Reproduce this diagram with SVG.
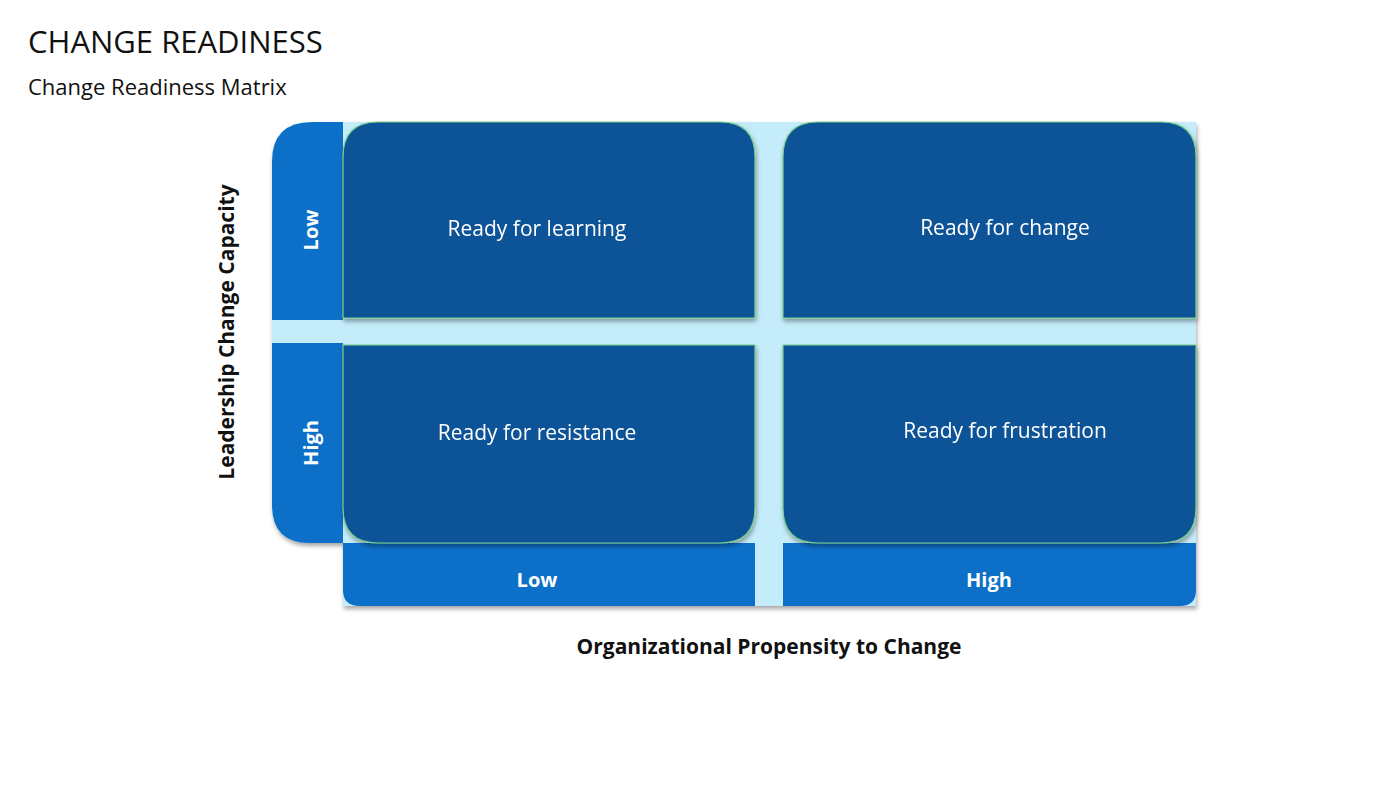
<svg xmlns="http://www.w3.org/2000/svg" width="1400" height="788" viewBox="0 0 1400 788">
<defs>
<style>
text{font-family:"Open Sans","Noto Sans",sans-serif}
.q{fill:#0f5397;stroke:#7ccf8a;stroke-width:1.2}
.b{fill:#1070c8}
.qt{fill:#fff;font-size:21px;text-anchor:middle}
.ax{fill:#fff;font-size:20px;font-weight:bold;text-anchor:middle}
.lb{fill:#111;font-size:21px;font-weight:bold;text-anchor:middle}
</style>
<filter id="sh" x="-5%" y="-5%" width="110%" height="115%"><feDropShadow dx="1" dy="3" stdDeviation="2" flood-color="#000" flood-opacity="0.35"/></filter>
</defs>
<rect width="1400" height="788" fill="#fff"/>
<text x="28" y="53" font-size="31" fill="#111">CHANGE READINESS</text>
<text x="28" y="95" font-size="22" fill="#111">Change Readiness Matrix</text>
<g id="frame" filter="url(#sh)">
<rect x="343" y="122" width="853" height="484" fill="#c4ecfa"/>
<rect x="272" y="320" width="72" height="23" fill="#c4ecfa"/>
<path class="b" d="M272 162 Q272 122 312 122 L343 122 L343 320 L272 320 Z"/>
<path class="b" d="M272 343 L343 343 L343 543 L310 543 Q272 543 272 505 Z"/>
<path class="b" d="M343 543 L755 543 L755 606 L360 606 Q343 606 343 590 Z"/>
<path class="b" d="M783 543 L1196 543 L1196 590 Q1196 606 1180 606 L783 606 Z"/>
</g>
<g id="axis-labels">
<text class="ax" transform="translate(318,230) rotate(-90)">Low</text>
<text class="ax" transform="translate(318,443) rotate(-90)">High</text>
<text class="ax" x="537" y="587">Low</text>
<text class="ax" x="989" y="587">High</text>
</g>
<g id="q1" filter="url(#sh)"><path class="q" d="M343 318 L343 157 Q343 122 378 122 L720 122 Q755 122 755 157 L755 318 Z"/><text class="qt" x="537" y="236">Ready for learning</text></g>
<g id="q2" filter="url(#sh)"><path class="q" d="M783 318 L783 157 Q783 122 818 122 L1161 122 Q1196 122 1196 157 L1196 318 Z"/><text class="qt" x="1005" y="235">Ready for change</text></g>
<g id="q3" filter="url(#sh)"><path class="q" d="M343 345 L755 345 L755 508 Q755 543 720 543 L378 543 Q343 543 343 508 Z"/><text class="qt" x="537" y="440">Ready for resistance</text></g>
<g id="q4" filter="url(#sh)"><path class="q" d="M783 345 L1196 345 L1196 508 Q1196 543 1161 543 L818 543 Q783 543 783 508 Z"/><text class="qt" x="1005" y="438">Ready for frustration</text></g>
<text class="lb" x="769" y="654">Organizational Propensity to Change</text>
<text class="lb" transform="translate(234,332) rotate(-90)">Leadership Change Capacity</text>
<g id="connectors"/>
</svg>
